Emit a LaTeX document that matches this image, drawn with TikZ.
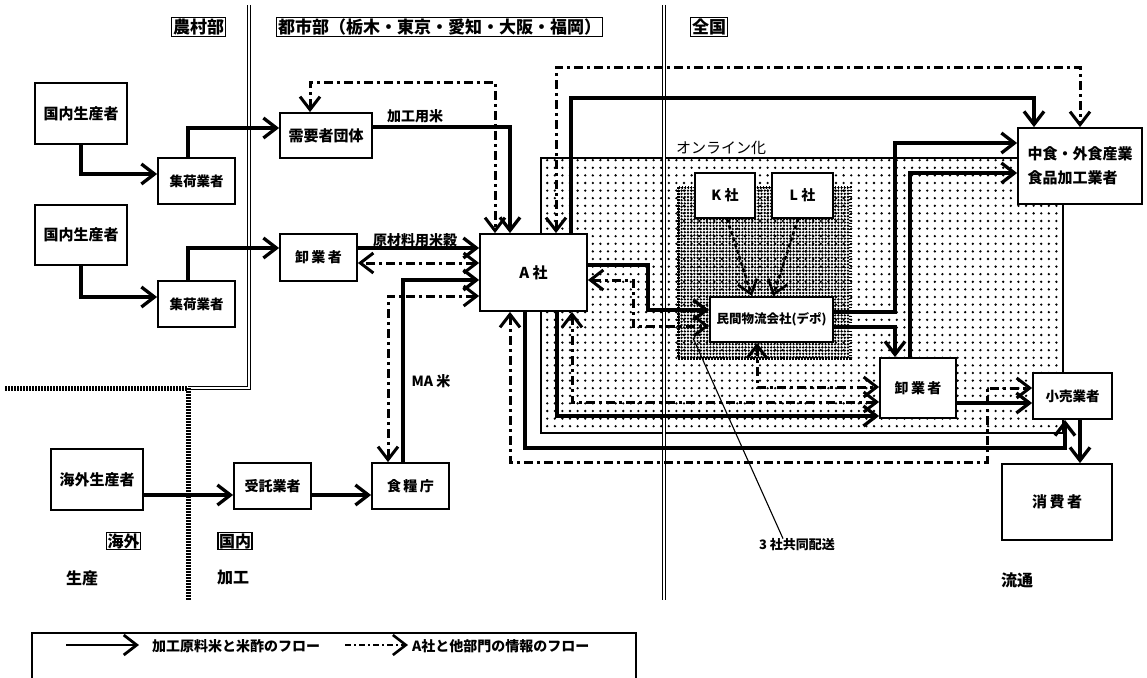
\documentclass[tikz,border=0pt]{standalone}
\usepackage{fontspec}
\setmainfont{Noto Sans CJK JP}
\usetikzlibrary{arrows.meta,patterns.meta}

\tikzdeclarepattern{
  name=sparsedots, type=uncolored,
  bounding box={(-1.6pt,-1.6pt) and (1.6pt,1.6pt)},
  tile size={(7.6pt,7.6pt)},
  code={\fill (0pt,0pt) circle (1.3pt);}
}
\tikzdeclarepattern{
  name=densedots, type=uncolored,
  bounding box={(-1.4pt,-1.4pt) and (1.4pt,1.4pt)},
  tile size={(3.2pt,3.2pt)},
  code={\fill (0pt,0pt) circle (1.32pt);}
}

\begin{document}
\begin{tikzpicture}[x=1pt,y=-1pt,
  >={Straight Barb[length=13pt,width=20pt]},
  box/.style={draw,line width=1.8pt,fill=white,inner sep=1pt,
    font=\bfseries\fontsize{15}{18}\selectfont},
  sbox/.style={box,font=\bfseries\fontsize{13.5}{16}\selectfont},
  hdr/.style={draw,line width=1.4pt,inner sep=1.5pt,
    font=\bfseries\fontsize{17}{19}\selectfont},
  sub/.style={draw,line width=1.4pt,inner sep=1pt,
    font=\bfseries\fontsize{16}{18}\selectfont},
  big/.style={inner sep=0pt,font=\bfseries\fontsize{16}{18}\selectfont},
  lbl/.style={inner sep=0pt,font=\bfseries\fontsize{14}{16}\selectfont},
  flow/.style={line width=3.3pt},
  info/.style={line width=3pt,dash pattern=on 9pt off 4pt on 3pt off 4pt},
  kl/.style={line width=2.6pt,dash pattern=on 4pt off 2.5pt,->},
  sep/.style={draw=black,double=white,double distance=1.6pt,line width=1.1pt},
  chk/.style={line width=5pt,dash pattern=on 1.5pt off 1.5pt},
]
\useasboundingbox (0,0) rectangle (1147,677);

% ---------- shaded regions ----------
\fill[pattern=sparsedots] (541,158) rectangle (1063,433);
\draw[line width=1.4pt] (541,158) rectangle (1063,433);
\fill[pattern=densedots] (678,187) rectangle (850,358);
\draw[line width=3pt,dash pattern=on 1.5pt off 1.5pt] (678,187) rectangle (850,358);

% ---------- separators ----------
\draw[sep] (249,5) -- (249,388) -- (188,388);
\draw[chk] (5,388) -- (188,388) -- (188,600);
\draw[sep] (664,5) -- (664,600);

% ---------- headers ----------
\node[hdr] (hnoson) at (198.5,27) {農村部};
\node[hdr] (htoshi) at (439.5,27) {都市部（栃木・東京・愛知・大阪・福岡）};
\node[hdr] (hzenkoku) at (709,27) {全国};
\node[sub] (hkaigai) at (123.5,541) {海外};
\node[sub] (hkokunai) at (235,541) {国内};
\node[big] (tseisan) at (82,578) {生産};
\node[big] (tkako) at (233,578) {加工};
\node[big] (tryutsu) at (1017,580) {流通};

% ---------- boxes ----------
\node[box,minimum width=92pt,minimum height=61pt] (gp1) at (81,113.5) {国内生産者};
\node[sbox,minimum width=77pt,minimum height=46pt] (sk1) at (196.5,181) {集荷業者};
\node[box,minimum width=92pt,minimum height=45pt] (jy) at (326,135.5) {需要者団体};
\node[box,minimum width=92pt,minimum height=60pt] (gp2) at (81,235) {国内生産者};
\node[sbox,minimum width=77pt,minimum height=46pt] (sk2) at (196.5,304) {集荷業者};
\node[box,minimum width=77pt,minimum height=47pt,font=\bfseries\fontsize{14}{16}\selectfont] (or1) at (318.5,257.5) {卸\,業\,者};
\node[box,minimum width=107pt,minimum height=77pt] (A) at (533.5,272.5) {A 社};
\node[box,minimum width=92pt,minimum height=61pt] (kg) at (97,479.5) {海外生産者};
\node[box,minimum width=77pt,minimum height=46pt,font=\bfseries\fontsize{14}{16}\selectfont] (jt) at (272.5,486) {受託業者};
\node[box,minimum width=77pt,minimum height=46pt,font=\bfseries\fontsize{14}{16}\selectfont] (sr) at (410.5,486) {食\,糧\,庁};
\node[box,minimum width=124pt,minimum height=76pt,align=left] (ch) at (1080,166) {中食・外食産業\\[6pt]食品加工業者};
\node[box,minimum width=60pt,minimum height=45pt,font=\bfseries\fontsize{14}{16}\selectfont] (K) at (725,195.5) {K 社};
\node[box,minimum width=61pt,minimum height=45pt,font=\bfseries\fontsize{14}{16}\selectfont] (L) at (802.5,195.5) {L 社};
\node[box,minimum width=123pt,minimum height=45pt,font=\bfseries\fontsize{12.5}{15}\selectfont] (depot) at (771.5,319.5) {民間物流会社(デポ)};
\node[box,minimum width=76pt,minimum height=60pt,font=\bfseries\fontsize{14}{16}\selectfont] (or2) at (918,388) {卸\,業\,者};
\node[sbox,minimum width=79pt,minimum height=46pt] (kr) at (1072.5,396) {小売業者};
\node[box,minimum width=110pt,minimum height=76pt] (sh) at (1057,502) {消\,費\,者};

% ---------- material flows ----------
\draw[flow,->] (gp1.south) |- (sk1.west |- 0,174);
\draw[flow,->] (188,0 |- sk1.north) |- (jy.west |- 0,128);
\draw[flow,->] (jy.east |- 0,127) -| (510,0 |- A.north);
\draw[flow,->] (gp2.south) |- (sk2.west |- 0,297);
\draw[flow,->] (188,0 |- sk2.north) |- (or1.west |- 0,248);
\draw[flow,->] (or1.east |- 0,248) -- (A.west |- 0,248);
\draw[flow,->] (403,0 |- sr.north) |- (A.west |- 0,280);
\draw[flow,->] (kg.east |- 0,495) -- (jt.west |- 0,495);
\draw[flow,->] (jt.east |- 0,495) -- (sr.west |- 0,495);
\draw[flow,->] (571,0 |- A.north) |- (1034,98) -- (1034,0 |- ch.north);
\draw[flow,->] (A.east |- 0,265) -| (648,310) -- (depot.west |- 0,310);
\draw[flow,->] (depot.east |- 0,312) -| (895,143) -- (ch.west |- 0,143);
\draw[flow,->] (depot.east |- 0,327) -| (895,0 |- or2.north);
\draw[flow,->] (910,0 |- or2.north) |- (ch.west |- 0,173);
\draw[flow,->] (557,0 |- A.south) |- (or2.west |- 0,416);
\draw[flow,->] (525,0 |- A.south) |- (1065,448) -- (1065,0 |- kr.south);
\draw[flow,->] (or2.east |- 0,403) -- (kr.west |- 0,403);
\draw[flow,->] (1080,0 |- kr.south) -- (1080,0 |- sh.north);

% ---------- information flows ----------
\draw[info,<->] (310,0 |- jy.north) |- (495,82) -- (495,0 |- A.north);
\draw[info,<->] (A.west |- 0,263) -- (or1.east |- 0,263);
\draw[info,<->] (388,0 |- sr.north) |- (A.west |- 0,296);
\draw[info,<->] (556,0 |- A.north) |- (1080,67) -- (1080,0 |- ch.north);
\draw[info,<->] (A.east |- 0,280) -| (633,326) -- (depot.west |- 0,326);
\draw[info,<->] (757,0 |- depot.south) |- (or2.west |- 0,387);
\draw[info,<->] (572,0 |- A.south) |- (or2.west |- 0,402);
\draw[info,<->] (510,0 |- A.south) |- (987,462) |- (kr.west |- 0,388);
\draw[kl] (727,0 |- K.south) -- (752,0 |- depot.north);
\draw[kl] (798,0 |- L.south) -- (773,0 |- depot.north);

% ---------- labels ----------
\node[lbl] (lkako) at (415,116) {加工用米};
\node[lbl] (lgenzai) at (415,240) {原材料用米穀};
\node[lbl] (lma) at (431,381) {MA 米};
\node[inner sep=0pt,font=\fontsize{15}{17}\selectfont] (lonline) at (721,148) {オンライン化};
\node[lbl,font=\bfseries\fontsize{13}{15}\selectfont] (lsansha) at (797,545) {3 社共同配送};
\coordinate (ptr) at (693,338);
\draw[line width=1.1pt] (ptr) -- ([xshift=-14pt]lsansha.north);

% ---------- legend ----------
\draw[line width=1.4pt] (32,690) -- (32,633) -- (636,633) -- (636,690);
\coordinate (lga) at (66,645);
\coordinate (lgb) at (139,645);
\draw[flow,->,line width=2.8pt] (lga) -- (lgb);
\node[lbl,anchor=west] (lgt1) at (152,646) {加工原料米と米酢のフロー};
\coordinate (lgc) at (345,645);
\coordinate (lgd) at (408,645);
\draw[info,->,line width=2.6pt,dash pattern=on 6pt off 3pt on 2pt off 3pt] (lgc) -- (lgd);
\node[lbl,anchor=west] (lgt2) at (412,646) {A社と他部門の情報のフロー};
\end{tikzpicture}
\end{document}
